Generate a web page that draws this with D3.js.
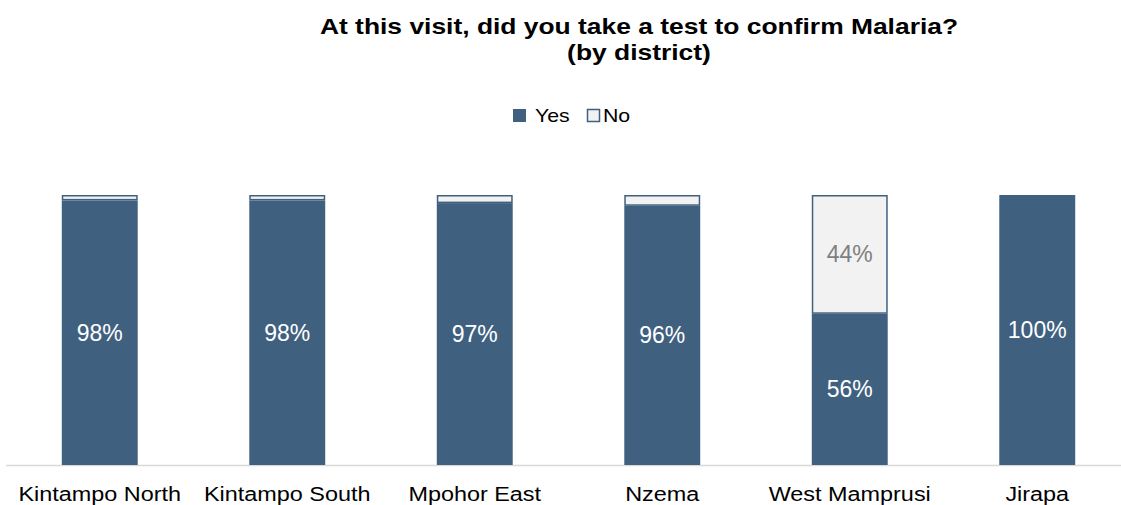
<!DOCTYPE html>
<html>
<head>
<meta charset="utf-8">
<script src="https://cdn.jsdelivr.net/npm/d3@7"></script>
<style>
  body { margin: 0; background: #fff; }
  svg text { font-family: "Liberation Sans", Arial, sans-serif; }
</style>
</head>
<body>
<svg id="chart" width="1121" height="505"></svg>
<script>
// data
const districts = ["Kintampo North", "Kintampo South", "Mpohor East", "Nzema", "West Mamprusi", "Jirapa"];
const yesValues = [98, 98, 97, 96, 56, 100];
const noValues = [2, 2, 3, 4, 44, 0];
const seriesNames = ["Yes", "No"];
const titleLines = ["At this visit, did you take a test to confirm Malaria?", "(by district)"];

const blue = "#3F617F";
const light = "#F2F2F2";

const svg = d3.select("#chart");
const margin = { left: 6, right: -10, top: 195, bottom: 40 };
const W = 1121, H = 505;

// the reference text is a bit wider than its height suggests -> stretch horizontally
function stretch(sel, factor) {
  sel.each(function () {
    const w = this.getComputedTextLength();
    d3.select(this).attr("textLength", w * factor).attr("lengthAdjust", "spacingAndGlyphs");
  });
}

const x = d3.scaleBand()
  .domain(districts)
  .range([margin.left, W - margin.right])
  .paddingInner(0.595)
  .paddingOuter(0.2975);

const y = d3.scaleLinear().domain([0, 100]).range([H - margin.bottom, margin.top]);

// title
svg.append("g").selectAll("text")
  .data(titleLines)
  .join("text")
  .attr("x", 639).attr("y", (d, i) => 34 + i * 26)
  .attr("text-anchor", "middle")
  .attr("font-size", "22px").attr("font-weight", "bold")
  .text(d => d)
  .call(stretch, 1.2);

// legend
const legend = svg.append("g").attr("transform", "translate(513,109)");
legend.append("rect").attr("x", 0).attr("y", 0).attr("width", 13).attr("height", 13).attr("fill", blue);
legend.append("text").attr("x", 22).attr("y", 13).attr("font-size", "19px").text(seriesNames[0]).call(stretch, 1.12);
legend.append("rect").attr("x", 74.5).attr("y", 0.5).attr("width", 12).attr("height", 12)
  .attr("fill", light).attr("stroke", blue).attr("stroke-width", 1.5);
legend.append("text").attr("x", 90).attr("y", 13).attr("font-size", "19px").text(seriesNames[1]).call(stretch, 1.12);

// axis line
svg.append("line")
  .attr("x1", 6).attr("x2", W)
  .attr("y1", y(0) + 0.5).attr("y2", y(0) + 0.5)
  .attr("stroke", "#D9D9D9").attr("stroke-width", 1.5);

const g = svg.append("g");

// yes bars
g.selectAll("rect.yes")
  .data(districts)
  .join("rect")
  .attr("class", "yes")
  .attr("x", d => x(d))
  .attr("width", x.bandwidth())
  .attr("y", (d, i) => y(yesValues[i]))
  .attr("height", (d, i) => y(0) - y(yesValues[i]))
  .attr("fill", blue);

// no bars
g.selectAll("rect.no")
  .data(districts.filter((d, i) => noValues[i] > 0))
  .join("rect")
  .attr("class", "no")
  .attr("x", d => x(d) + 0.75)
  .attr("width", x.bandwidth() - 1.5)
  .attr("y", d => { const i = districts.indexOf(d); return y(yesValues[i] + noValues[i]) + 0.75; })
  .attr("height", d => { const i = districts.indexOf(d); return y(yesValues[i]) - y(yesValues[i] + noValues[i]) - 1.5; })
  .attr("fill", light)
  .attr("stroke", blue)
  .attr("stroke-width", 1.5);

// yes labels
g.selectAll("text.yes")
  .data(districts)
  .join("text")
  .attr("x", d => x(d) + x.bandwidth() / 2)
  .attr("y", (d, i) => (y(0) + y(yesValues[i])) / 2 + 8)
  .attr("text-anchor", "middle")
  .attr("font-size", "23px")
  .attr("fill", "#fff")
  .text((d, i) => yesValues[i] + "%");

// no labels (only where big enough)
g.selectAll("text.no")
  .data(districts.filter((d, i) => noValues[i] >= 10))
  .join("text")
  .attr("x", d => x(d) + x.bandwidth() / 2)
  .attr("y", d => { const i = districts.indexOf(d); return (y(yesValues[i]) + y(100)) / 2 + 8; })
  .attr("text-anchor", "middle")
  .attr("font-size", "23px")
  .attr("fill", "#7F7F7F")
  .text(d => noValues[districts.indexOf(d)] + "%");

// category labels
svg.selectAll("text.cat")
  .data(districts)
  .join("text")
  .attr("class", "cat")
  .attr("x", d => x(d) + x.bandwidth() / 2)
  .attr("y", 501)
  .attr("text-anchor", "middle")
  .attr("font-size", "19.5px")
  .attr("fill", "#000")
  .text(d => d)
  .call(stretch, 1.2);
</script>
</body>
</html>
